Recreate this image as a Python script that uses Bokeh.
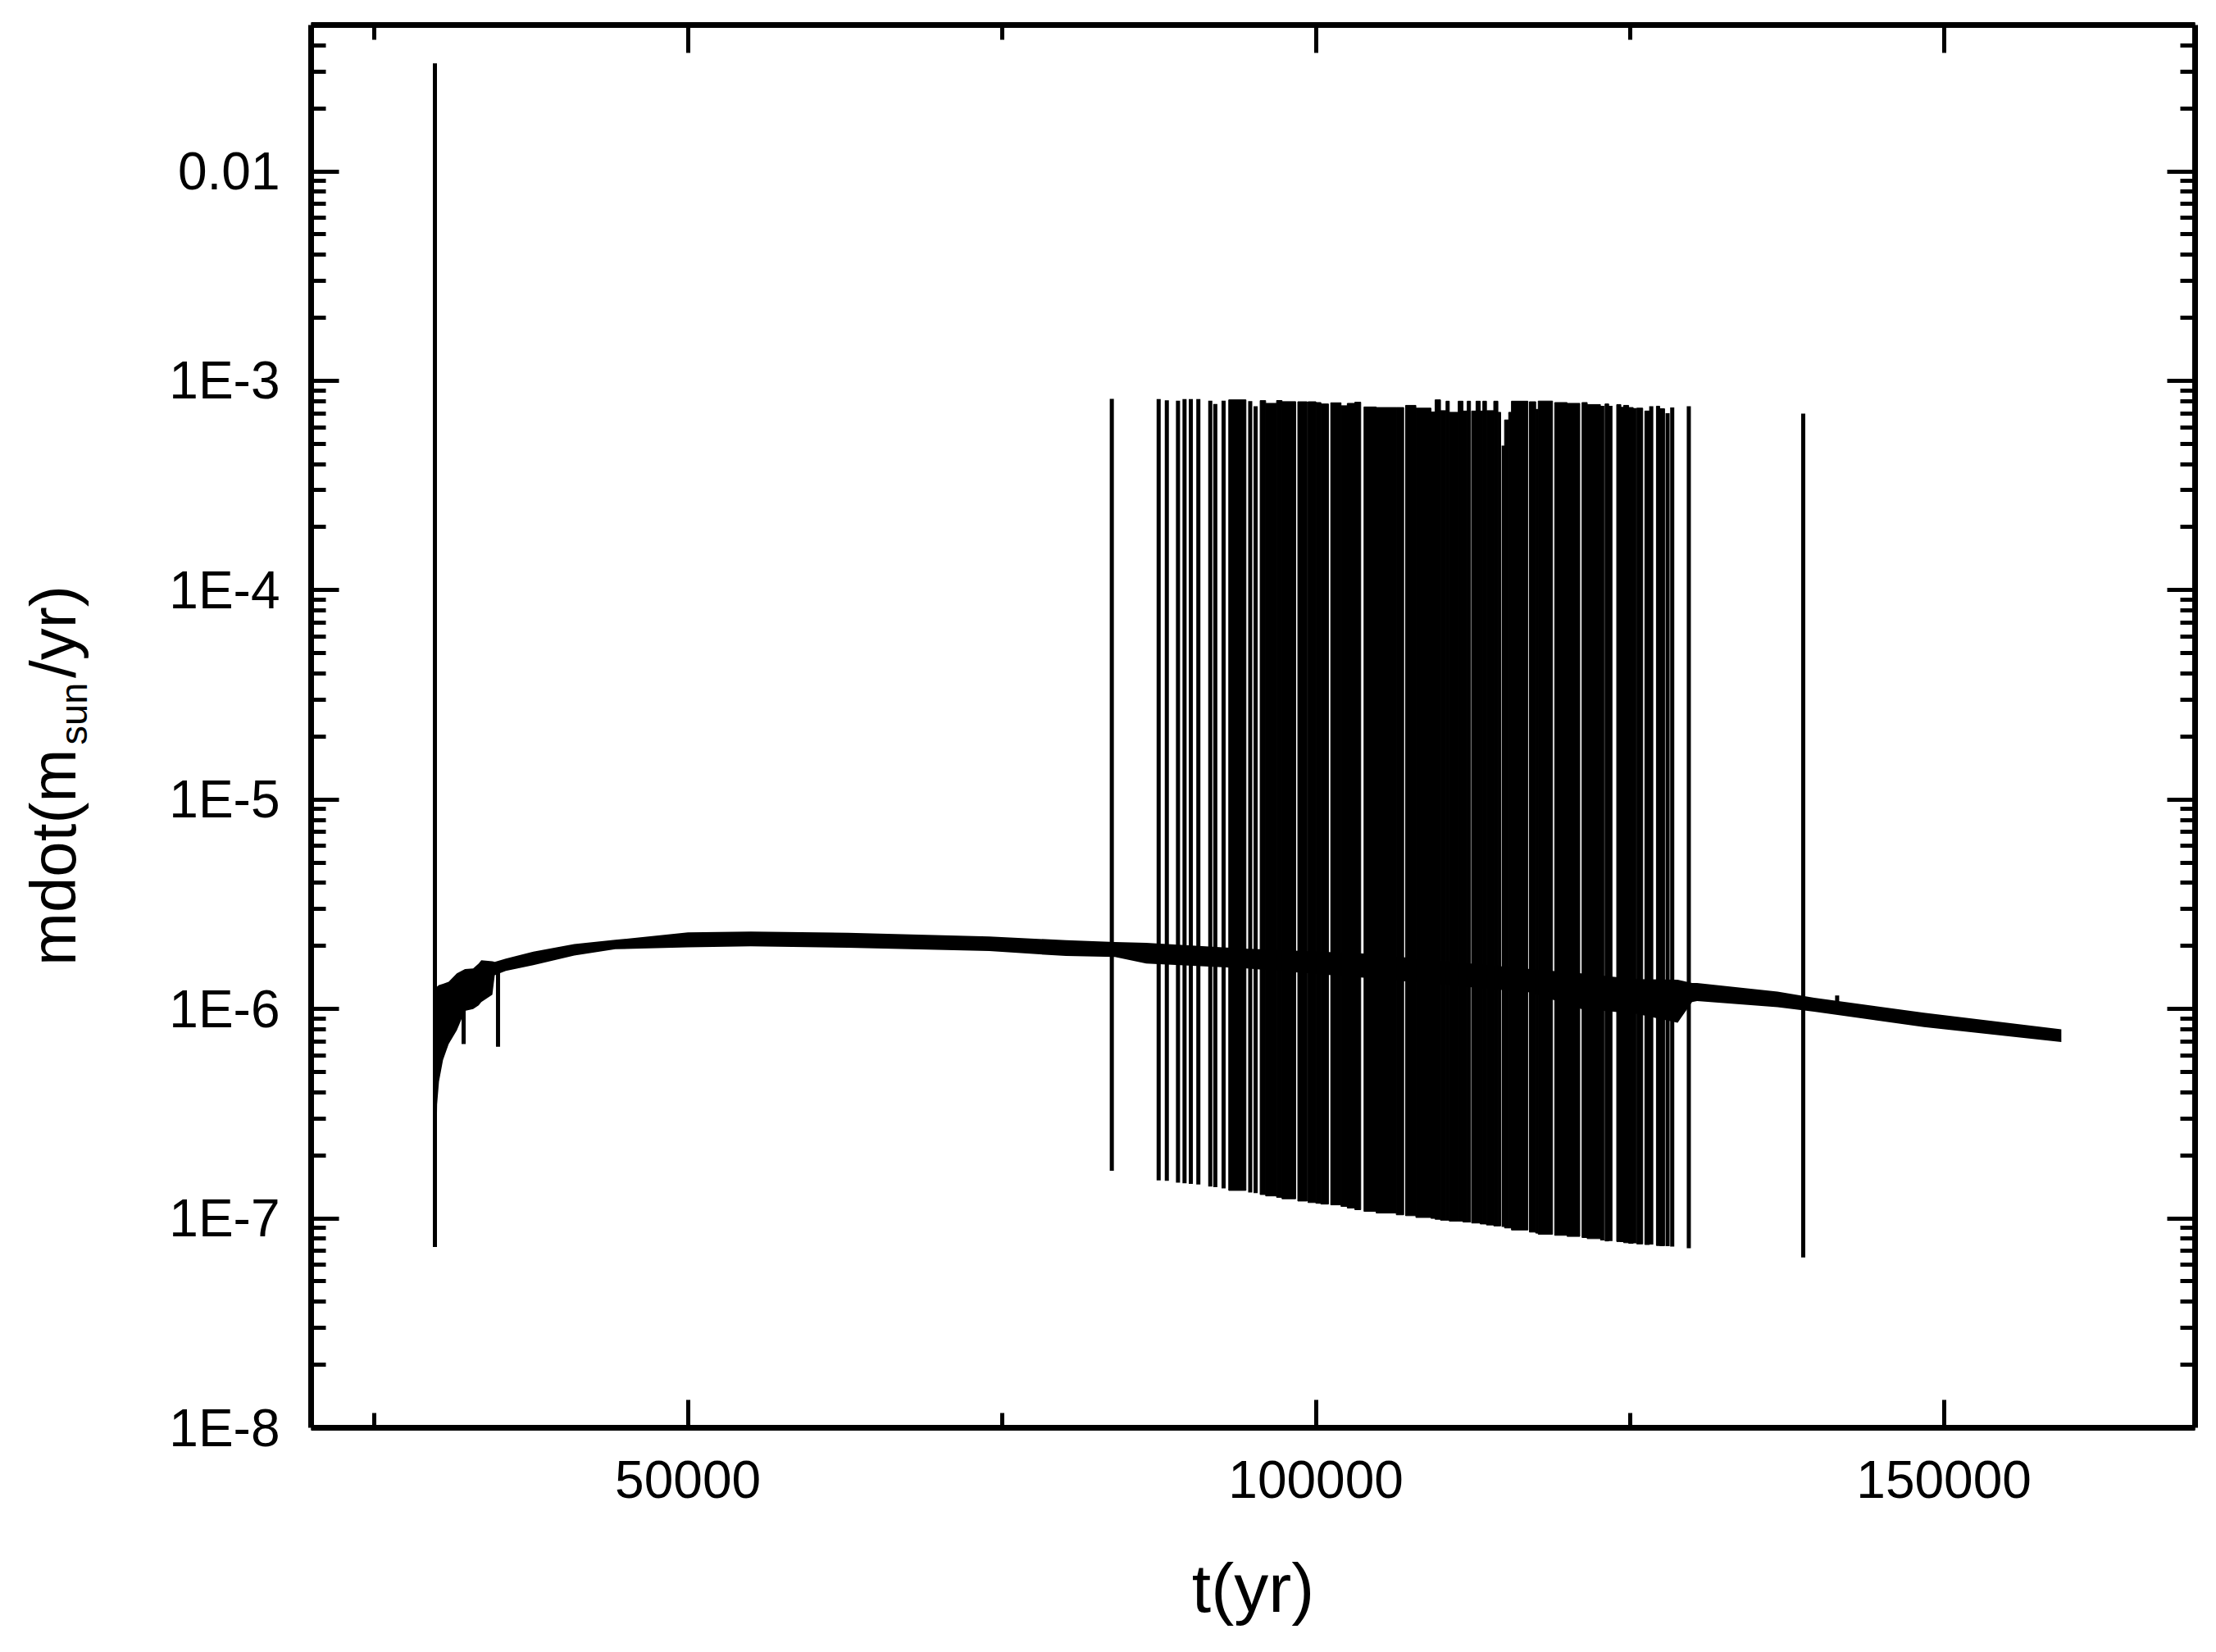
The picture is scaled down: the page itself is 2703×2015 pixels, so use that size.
import math
from bokeh.plotting import figure
from bokeh.models import FixedTicker, LinearAxis, LogAxis, Label, CustomLabelingPolicy
from bokeh.embed import file_html
from bokeh.resources import INLINE

# ---------------- data ----------------
# continuous accretion band: time, lower edge, upper edge (m_sun/yr)
base_t = [29860, 30030, 30180, 30500, 30950, 31600, 32250, 32900, 33340, 33550,
          34430, 34620, 35500, 37690, 40950, 44220, 50000, 55000, 62750, 74000,
          80100, 84000, 86490, 94540, 103790, 117090, 121140, 125440, 128800,
          129950, 130350, 136760, 139670, 148410, 159350]
base_lo = [7.3e-8, 3.5e-7, 4.5e-7, 5.7e-7, 6.8e-7, 7.9e-7, 9.8e-7, 1.00e-6, 1.04e-6, 1.08e-6,
           1.17e-6, 1.45e-6, 1.52e-6, 1.62e-6, 1.80e-6, 1.93e-6, 1.97e-6, 1.99e-6, 1.96e-6, 1.89e-6,
           1.79e-6, 1.77e-6, 1.65e-6, 1.56e-6, 1.41e-6, 1.20e-6, 1.00e-6, 0.95e-6, 0.86e-6,
           1.08e-6, 1.09e-6, 1.02e-6, 0.97e-6, 8.2e-7, 6.95e-7]
base_hi = [1.20e-6, 1.28e-6, 1.30e-6, 1.32e-6, 1.35e-6, 1.48e-6, 1.55e-6, 1.56e-6, 1.65e-6, 1.71e-6,
           1.69e-6, 1.68e-6, 1.74e-6, 1.88e-6, 2.04e-6, 2.14e-6, 2.32e-6, 2.34e-6, 2.31e-6, 2.22e-6,
           2.13e-6, 2.09e-6, 2.07e-6, 1.94e-6, 1.84e-6, 1.55e-6, 1.48e-6, 1.39e-6, 1.38e-6,
           1.33e-6, 1.33e-6, 1.21e-6, 1.13e-6, 9.6e-7, 8.0e-7]

# single spikes / dips: time, low value, high value
spike_t = [29856, 32140, 34880, 83750,
           87480, 88130, 89020, 89540, 90040, 90640, 91590, 91990, 92650, 94770, 95200,
           114950, 122800, 123450, 124380, 125350, 126700, 128000, 128370, 129690,
           138800, 141500]
spike_lo = [7.3e-8, 6.8e-7, 6.6e-7, 1.69e-7,
            1.52e-7, 1.51e-7, 1.48e-7, 1.47e-7, 1.46e-7, 1.45e-7, 1.42e-7, 1.41e-7, 1.39e-7, 1.33e-7, 1.32e-7,
            9.1e-8, 7.85e-8, 7.8e-8, 7.7e-8, 7.6e-8, 7.5e-8, 7.36e-8, 7.34e-8, 7.2e-8,
            6.5e-8, 1.0e-6]
spike_hi = [0.0328, 1.3e-6, 1.5e-6, 8.2e-4,
            8.18e-4, 8.06e-4, 8.04e-4, 8.18e-4, 8.18e-4, 8.18e-4, 8.04e-4, 7.75e-4, 8.04e-4, 7.99e-4, 7.56e-4,
            4.9e-4, 7.6e-4, 7.6e-4, 7.5e-4, 7.4e-4, 7.56e-4, 7.0e-4, 7.45e-4, 7.56e-4,
            6.97e-4, 1.16e-6]

# dense outburst episodes: start, end, upper envelope, lower envelope
burst_start = [93060, 95560, 96000, 96870, 97300, 98560, 99370, 100000, 100400, 101180,
               102000, 102500, 103100, 103830, 104800, 106400, 107140, 107960, 109160, 109490,
               109920, 110360, 110620, 111330, 111710, 112050, 112400, 112750, 113080, 113290,
               113580, 114160, 114490, 115020, 115350, 115570, 117000, 117500, 117700, 119010,
               120000, 121190, 121600, 123020, 123950, 124500, 124900, 125540, 126190, 127110,
               127370]
burst_end = [94430, 96000, 96870, 97300, 98390, 99300, 100000, 100400, 101000, 102000,
             102500, 103100, 103570, 104800, 106400, 106990, 107960, 109160, 109490, 109920,
             110360, 110620, 111330, 111710, 112050, 112310, 112750, 113080, 113290, 113580,
             114160, 114490, 114710, 115350, 115570, 116880, 117500, 117700, 118840, 120000,
             121010, 121600, 122650, 123310, 124280, 124900, 125260, 126020, 126560, 127370,
             127760]
burst_top = [8.11e-4, 8.04e-4, 7.80e-4, 8.05e-4, 7.95e-4, 7.94e-4, 7.94e-4, 7.87e-4, 7.75e-4, 7.85e-4,
             7.60e-4, 7.80e-4, 7.90e-4, 7.50e-4, 7.45e-4, 7.45e-4, 7.63e-4, 7.40e-4, 7.10e-4, 8.11e-4,
             7.20e-4, 7.99e-4, 7.07e-4, 7.99e-4, 7.17e-4, 7.99e-4, 7.17e-4, 7.99e-4, 7.17e-4, 7.99e-4,
             7.20e-4, 7.99e-4, 7.07e-4, 6.50e-4, 7.07e-4, 7.99e-4, 7.94e-4, 7.30e-4, 8.00e-4, 7.87e-4,
             7.80e-4, 7.87e-4, 7.70e-4, 7.75e-4, 7.70e-4, 7.63e-4, 7.45e-4, 7.40e-4, 7.17e-4, 7.56e-4,
             7.35e-4]
burst_bottom = [1.36e-7, 1.30e-7, 1.28e-7, 1.26e-7, 1.24e-7, 1.21e-7, 1.19e-7, 1.18e-7, 1.17e-7, 1.16e-7,
                1.14e-7, 1.12e-7, 1.10e-7, 1.08e-7, 1.06e-7, 1.04e-7, 1.03e-7, 1.01e-7, 1.00e-7, 9.9e-8,
                9.8e-8, 9.8e-8, 9.7e-8, 9.7e-8, 9.6e-8, 9.6e-8, 9.5e-8, 9.5e-8, 9.4e-8, 9.4e-8,
                9.3e-8, 9.2e-8, 9.2e-8, 9.0e-8, 9.0e-8, 8.8e-8, 8.6e-8, 8.5e-8, 8.4e-8, 8.3e-8,
                8.2e-8, 8.1e-8, 8.0e-8, 7.8e-8, 7.75e-8, 7.65e-8, 7.6e-8, 7.55e-8, 7.5e-8, 7.42e-8,
                7.4e-8]

# axes
x_ticks = [50000, 100000, 150000]
x_tick_labels = ["50000", "100000", "150000"]
x_minor = [25000, 75000, 125000]
y_ticks = [1e-8, 1e-7, 1e-6, 1e-5, 1e-4, 1e-3, 1e-2]
y_tick_labels = ["1E-8", "1E-7", "1E-6", "1E-5", "1E-4", "1E-3", "0.01"]
y_minor = [m * d for d in [1e-8, 1e-7, 1e-6, 1e-5, 1e-4, 1e-3, 1e-2] for m in range(2, 10)]

FONT = "Liberation Sans"

p = figure(width=2687, height=1999, x_range=(20000, 170000), y_range=(1e-8, 0.05),
           y_axis_type="log", output_backend="svg", toolbar_location=None,
           min_border_left=379, min_border_right=10, min_border_top=30, min_border_bottom=258)
p.outline_line_color = None
p.xgrid.visible = False
p.ygrid.visible = False
p.background_fill_color = "white"
p.border_fill_color = "white"

p.varea(x=base_t, y1=base_lo, y2=base_hi, fill_color="black")
p.quad(left=burst_start, right=burst_end, top=burst_top, bottom=burst_bottom,
       fill_color="black", line_color="black", line_width=1)
p.segment(x0=spike_t, y0=spike_lo, x1=spike_t, y1=spike_hi, line_color="black", line_width=5)

NO_LABELS = CustomLabelingPolicy(code="""
const n = indices.size
for (let i = 0; i < n; i++) { indices.unset(i) }
return indices
""")


def style(ax, show_labels):
    ax.axis_line_width = 7
    ax.axis_line_color = "black"
    ax.major_tick_in = 34
    ax.major_tick_out = 0
    ax.minor_tick_in = 18
    ax.minor_tick_out = 0
    ax.major_tick_line_width = 5
    ax.minor_tick_line_width = 5
    ax.major_tick_line_color = "black"
    ax.minor_tick_line_color = "black"
    ax.major_label_text_font = FONT
    ax.major_label_text_color = "black"
    if show_labels:
        ax.major_label_text_font_size = "64px"
    else:
        ax.major_label_text_font_size = "1px"
        ax.major_label_standoff = 0
        ax.major_label_policy = NO_LABELS


xt = FixedTicker(ticks=x_ticks, minor_ticks=x_minor)
yt = FixedTicker(ticks=y_ticks, minor_ticks=y_minor)

xa = p.xaxis[0]
xa.ticker = xt
xa.major_label_overrides = dict(zip(x_ticks, x_tick_labels))
style(xa, True)
xa.major_label_standoff = 40
xa.axis_label = "t(yr)"
xa.axis_label_text_font = FONT
xa.axis_label_text_font_size = "84px"
xa.axis_label_text_font_style = "normal"
xa.axis_label_text_color = "black"
xa.axis_label_standoff = 60

ya = p.yaxis[0]
ya.ticker = yt
ya.major_label_overrides = dict(zip(y_ticks, y_tick_labels))
style(ya, True)
ya.major_label_standoff = 38

top = LinearAxis(ticker=FixedTicker(ticks=x_ticks, minor_ticks=x_minor))
style(top, False)
p.add_layout(top, "above")
right = LogAxis(ticker=FixedTicker(ticks=y_ticks, minor_ticks=y_minor))
style(right, False)
p.add_layout(right, "right")

# rotated y-axis title with subscript (anchored in data units, placed in the left panel)
NBSP = "\u00a0"
lab_common = dict(x_units="data", y_units="data", angle=math.pi / 2,
                  text_font=FONT, text_color="black", text_align="left",
                  text_baseline="alphabetic")
p.add_layout(Label(x=-556, y=1.608e-6, text="mdot(m" + NBSP * 4 + "/yr)",
                   text_font_size="78px", **lab_common), "left")
p.add_layout(Label(x=1097, y=1.826e-5, text="sun", text_font_size="47px", **lab_common), "left")

open("out.html", "w").write(file_html(p, INLINE))
